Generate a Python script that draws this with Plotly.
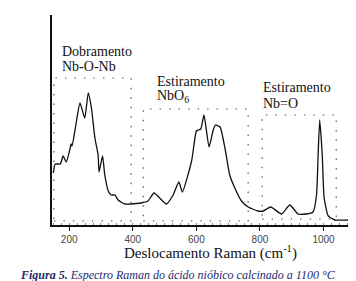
import plotly.graph_objects as go

# Raman shift (cm-1) and relative intensity (a.u.)
shift = [150, 156, 172, 181, 191, 203, 206, 209, 222, 234, 249, 260, 270, 281, 291, 294,
         305, 312, 323, 332, 344, 354, 375, 395, 426, 448, 467, 506, 527, 545, 556, 585,
         600, 606, 614, 624, 640, 653, 660, 669, 675, 690, 705, 721, 742, 763, 794, 810,
         834, 868, 894, 920, 946, 967, 978, 983, 988, 996, 1002, 1015, 1036, 1077, 1098]
intensity = [52, 61, 61, 69, 63, 77, 81, 79, 102, 122, 107, 132, 117, 87, 70, 53,
             69, 50, 34, 30, 30, 25, 21, 21, 22, 24, 32, 21, 30, 43, 33, 64,
             94, 95, 96, 110, 78, 95, 100, 99, 98, 77, 50, 37, 24, 18, 14, 14,
             18, 11, 20, 11, 11, 13, 30, 70, 105, 70, 27, 9, 5, 5, 5]

# Band assignment regions (dotted boxes)
band_lo = [152, 433, 807]
band_hi = [395, 763, 1040]
band_top = [147, 116, 110]
band_bottom = [4, 4, 6]
band_line1 = ["Dobramento", "Estiramento", "Estiramento"]
band_line2 = ["Nb-O-Nb", "NbO<sub>6</sub>", "Nb=O"]
label_x = [170, 471, 802]
label_y1 = [174, 144, 138]
label_y2 = [159, 129, 122]

tick_vals = [200, 400, 600, 800, 1000]
tick_text = ["200", "400", "600", "800", "1000"]

serif = "Times New Roman"

fig = go.Figure()
fig.add_trace(go.Scatter(x=shift, y=intensity, mode="lines",
                         line=dict(color="#111111", width=1.3, shape="spline", smoothing=0.5),
                         hoverinfo="skip", showlegend=False))

for lo, hi, top, bot in zip(band_lo, band_hi, band_top, band_bottom):
    fig.add_shape(type="rect", xref="x", yref="y", x0=lo, x1=hi, y0=bot, y1=top,
                  line=dict(color="#555555", width=1.2, dash="1.5px,8px"))

for x, y1, y2, t1, t2 in zip(label_x, label_y1, label_y2, band_line1, band_line2):
    fig.add_annotation(x=x, y=y1, xref="x", yref="y", text=t1, showarrow=False,
                       xanchor="left", yanchor="middle",
                       font=dict(family=serif, size=14, color="#111111"))
    fig.add_annotation(x=x, y=y2, xref="x", yref="y", text=t2, showarrow=False,
                       xanchor="left", yanchor="middle",
                       font=dict(family=serif, size=14, color="#111111"))

fig.add_annotation(x=0.523, y=-0.133, xref="paper", yref="paper",
                   text="Deslocamento Raman (cm<sup>-1</sup>)", showarrow=False,
                   xanchor="center", yanchor="middle",
                   font=dict(family=serif, size=15, color="#111111"))

fig.add_annotation(x=-0.112, y=-0.238, xref="paper", yref="paper",
                   text="<b><i>Figura 5.</i></b><i> Espectro Raman do ácido nióbico calcinado a 1100 °C</i>",
                   showarrow=False, xanchor="left", yanchor="middle",
                   font=dict(family=serif, size=12, color="#1e2a6e"))

fig.update_xaxes(range=[146, 1099], showgrid=False, zeroline=False,
                 showline=True, linecolor="#111111", linewidth=1.5,
                 tickmode="array", tickvals=tick_vals, ticktext=tick_text,
                 ticks="outside", ticklen=4, tickwidth=1, tickcolor="#111111",
                 tickfont=dict(family="Arial", size=10, color="#444444"),
                 minor=dict(ticks="inside", ticklen=2, dtick=25, tickcolor="#888888", tickwidth=1))
fig.update_yaxes(range=[0, 210], showgrid=False, zeroline=False,
                 showline=True, linecolor="#111111", linewidth=1.5,
                 showticklabels=False, ticks="")

fig.update_layout(width=356, height=281, margin=dict(l=44, r=9, t=7, b=64),
                  paper_bgcolor="white", plot_bgcolor="white",
                  font=dict(family=serif))

fig.write_html("out.html")
